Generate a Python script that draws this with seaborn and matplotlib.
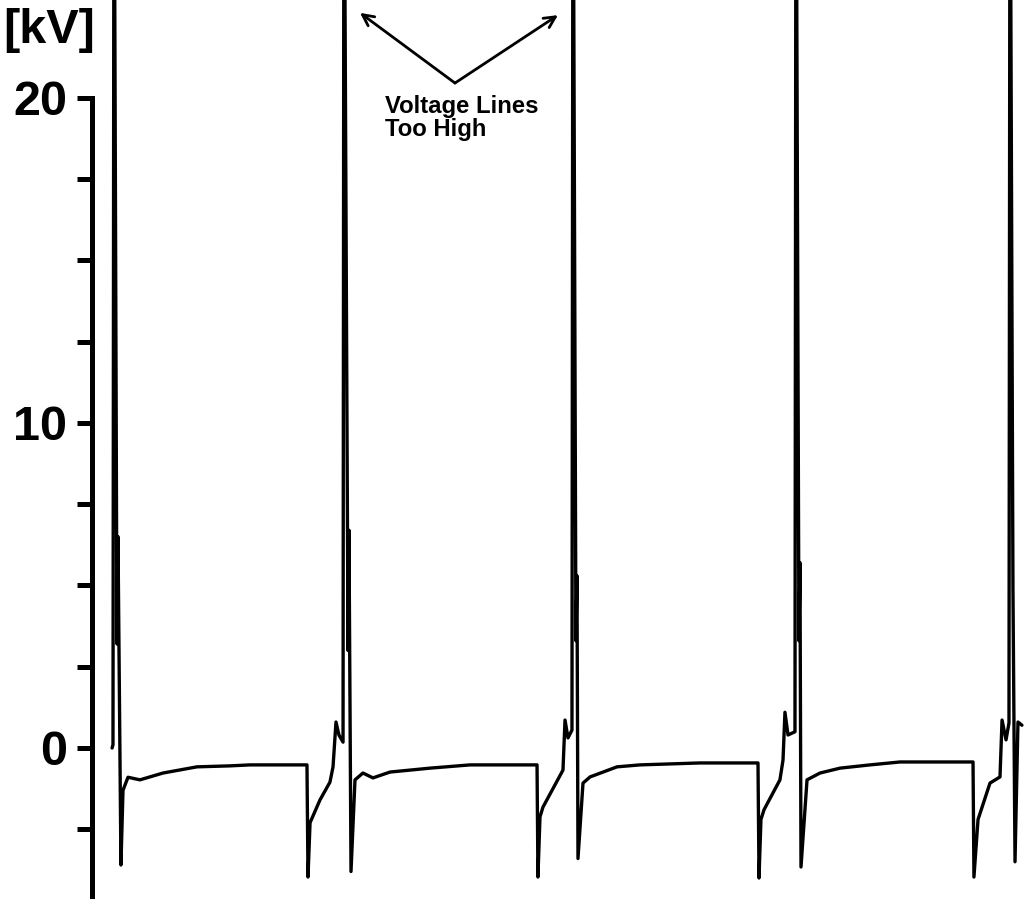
import matplotlib
matplotlib.use('Agg')
import matplotlib.pyplot as plt
import matplotlib.ticker as mticker
import numpy as np
import pandas as pd
import seaborn as sns

# trace, one list per ignition cycle
# time in ms, voltage in kV (peaks run off the top of the screen)
t_cycle0 = [1.85, 1.93, 2.02, 2.28, 2.37, 2.63, 2.81, 3.25, 4.30, 6.33, 9.31, 12.21, 13.97, 18.98]
kv_cycle0 = [0.0, 0.1, 30.0, 3.2, 6.5, -3.6, -1.3, -0.9, -0.98, -0.77, -0.58, -0.55, -0.52, -0.52]

t_cycle1 = [19.07, 19.25, 20.12, 21.0, 21.27, 21.53, 21.79, 22.15, 22.23, 22.59, 22.67, 22.85,
            23.2, 23.9, 24.78, 26.28, 29.79, 33.31, 39.2]
kv_cycle1 = [-3.97, -2.3, -1.6, -1.05, -0.58, 0.8, 0.4, 0.18, 30.0, 3.0, 6.7, -3.8,
             -0.98, -0.77, -0.92, -0.74, -0.62, -0.52, -0.52]

t_cycle2 = [39.28, 39.46, 39.72, 41.48, 41.66, 41.92, 42.27, 42.36, 42.62, 42.71, 42.8,
            43.24, 43.86, 46.23, 48.25, 53.52, 58.62]
kv_cycle2 = [-3.97, -2.12, -1.82, -0.68, 0.86, 0.31, 0.55, 30.0, 3.3, 5.3, -3.4,
             -1.08, -0.89, -0.58, -0.52, -0.46, -0.46]

t_cycle3 = [58.71, 58.88, 59.15, 60.55, 60.82, 60.99, 61.26, 61.87, 61.96, 62.22, 62.31, 62.4,
            62.93, 64.07, 65.83, 68.46, 71.1, 77.52]
kv_cycle3 = [-4.0, -2.2, -1.9, -0.98, -0.37, 1.1, 0.4, 0.5, 30.0, 3.3, 5.7, -3.66,
             -0.98, -0.77, -0.62, -0.52, -0.43, -0.43]

t_cycle4 = [77.6, 77.96, 79.01, 79.89, 80.07, 80.42, 80.68, 80.77, 81.03, 81.21, 81.47, 81.82]
kv_cycle4 = [-3.97, -2.2, -1.08, -0.89, 0.86, 0.25, 0.77, 30.0, 4.9, -3.5, 0.8, 0.7]

y_ticks = [-2.5, 0, 2.5, 5, 7.5, 10, 12.5, 15, 17.5, 20]
y_labels = {0: '0', 10: '10', 20: '20'}
unit_label = '[kV]'
note_text = 'Voltage Lines\nToo High'


def main():
    sns.set_style('white')
    plt.rcParams['font.family'] = ['Liberation Sans', 'DejaVu Sans']

    trace = pd.DataFrame({
        'time_ms': t_cycle0 + t_cycle1 + t_cycle2 + t_cycle3 + t_cycle4,
        'kV': kv_cycle0 + kv_cycle1 + kv_cycle2 + kv_cycle3 + kv_cycle4,
    })

    fig = plt.figure(figsize=(10.24, 9.0), dpi=100)
    ax = fig.add_axes([0, 0, 1, 1])

    sns.lineplot(ax=ax, data=trace, x='time_ms', y='kV', estimator=None, sort=False,
                 color='black', linewidth=2.4)

    ax.set_xlim(-8.0, 82.0)
    ax.set_ylim(-4.677, 23.015)
    ax.set_xlabel('')
    ax.set_ylabel('')
    ax.set_xticks([])

    for side in ['top', 'right', 'bottom']:
        ax.spines[side].set_visible(False)
    ax.spines['left'].set_position(('data', 0.1))
    ax.spines['left'].set_bounds(-4.55, 20)
    ax.spines['left'].set_linewidth(3.6)
    ax.spines['left'].set_color('black')

    ax.set_yticks(y_ticks)
    ax.yaxis.set_major_formatter(mticker.FuncFormatter(lambda v, p: y_labels.get(v, '')))
    ax.tick_params(axis='y', left=True, direction='out', length=11, width=3.6, color='black',
                   pad=7, labelsize=35, labelcolor='black')
    for lbl in ax.get_yticklabels():
        lbl.set_fontweight('bold')

    fig.text(0.003, 1 - 43 / 900, unit_label, ha='left', va='baseline',
             fontsize=35, fontweight='bold', color='black')

    # arrows pointing at the clipped peaks
    arrow_style = dict(arrowstyle='->', color='black', lw=2.0, mutation_scale=20,
                       shrinkA=0, shrinkB=0)
    ax.annotate('', xy=(23.64, 22.62), xytext=(31.99, 20.46), arrowprops=arrow_style)
    ax.annotate('', xy=(41.04, 22.55), xytext=(31.99, 20.46), arrowprops=arrow_style)
    ax.text(25.84, 20.1, note_text, ha='left', va='top', fontsize=17.2, fontweight='bold',
            color='black', linespacing=1.0)

    fig.savefig('out.png', dpi=100)


if __name__ == '__main__':
    main()
